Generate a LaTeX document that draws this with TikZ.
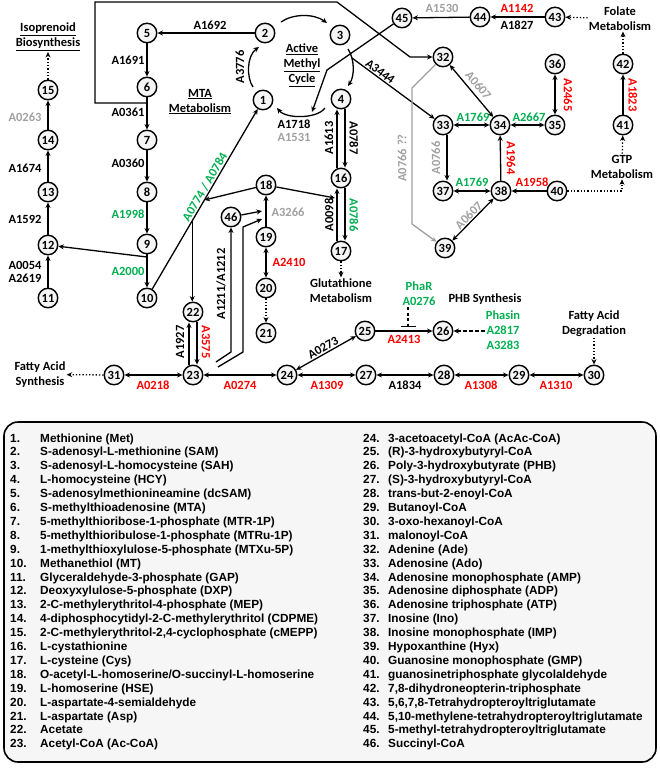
\documentclass[tikz,border=0pt]{standalone}
\usepackage{fontspec}
\setmainfont{Liberation Sans}
\newfontfamily\carl{Carlito}
\usetikzlibrary{arrows.meta,calc}
\definecolor{cred}{RGB}{255,0,0}
\definecolor{cgreen}{RGB}{0,176,80}
\definecolor{cgray}{RGB}{160,160,160}
\newcommand\lf{\carl\bfseries\fontsize{12.5}{15}\selectfont}
\newcommand\legf{\bfseries\fontsize{11.8}{13.9}\selectfont}
\tikzset{
 met/.style={circle,draw,line width=1.4pt,fill=gray!8,minimum size=19.5pt,inner sep=0pt,font=\lf},
 lab/.style={font=\lf,inner sep=1pt},
 txt/.style={font=\lf,inner sep=1pt,align=center},
 arr/.style={-{Stealth[length=5.5pt,width=5pt]},line width=1.3pt},
 darr/.style={{Stealth[length=5.5pt,width=5pt]}-{Stealth[length=5.5pt,width=5pt]},line width=1.3pt},
 dotarr/.style={arr,dotted},
 dasharr/.style={arr,dash pattern=on 3.5pt off 2.5pt},
 leg/.style={font=\legf,anchor=base west,inner sep=0pt},
}
\begin{document}
\begin{tikzpicture}[x=1pt,y=-1pt]
\useasboundingbox (0,0) rectangle (660,774);
% ---------- metabolites ----------
\node[met] (n1) at (263,100) {1};
\node[met] (n2) at (265,33) {2};
\node[met] (n3) at (340,35) {3};
\node[met] (n4) at (341,99) {4};
\node[met] (n5) at (147,33) {5};
\node[met] (n6) at (147,87) {6};
\node[met] (n7) at (147,140) {7};
\node[met] (n8) at (147,192) {8};
\node[met] (n9) at (147,244) {9};
\node[met] (n10) at (147,298) {10};
\node[met] (n11) at (48,298) {11};
\node[met] (n12) at (48,245) {12};
\node[met] (n13) at (48,192) {13};
\node[met] (n14) at (48,140) {14};
\node[met] (n15) at (48,90) {15};
\node[met] (n16) at (341,178) {16};
\node[met] (n17) at (341,251) {17};
\node[met] (n18) at (266,185) {18};
\node[met] (n19) at (266,237) {19};
\node[met] (n20) at (266,288) {20};
\node[met] (n21) at (266,333) {21};
\node[met] (n22) at (193,312) {22};
\node[met] (n23) at (193,375) {23};
\node[met] (n24) at (287,375) {24};
\node[met] (n25) at (365,331) {25};
\node[met] (n26) at (443,331) {26};
\node[met] (n27) at (366,375) {27};
\node[met] (n28) at (444,375) {28};
\node[met] (n29) at (519,375) {29};
\node[met] (n30) at (594,375) {30};
\node[met] (n31) at (114,375) {31};
\node[met] (n32) at (443,57) {32};
\node[met] (n33) at (443,125) {33};
\node[met] (n34) at (500,125) {34};
\node[met] (n35) at (555,125) {35};
\node[met] (n36) at (555,64) {36};
\node[met] (n37) at (443,191) {37};
\node[met] (n38) at (501,191) {38};
\node[met] (n39) at (445,248) {39};
\node[met] (n40) at (557,191) {40};
\node[met] (n41) at (623,125) {41};
\node[met] (n42) at (623,64) {42};
\node[met] (n43) at (555,17) {43};
\node[met] (n44) at (480,17) {44};
\node[met] (n45) at (402,18) {45};
\node[met] (n46) at (231,217) {46};
% ---------- titles ----------
\node[txt] (isop) at (48,37) {\underline{Isoprenoid}\\\underline{Biosynthesis}};
\node[txt] (mta) at (200,101.5) {\underline{MTA}\\\underline{Metabolism}};
\node[txt] (amc) at (302,65) {\underline{Active}\\\underline{Methyl}\\\underline{Cycle}};
\node[txt] (glut) at (341,290.5) {Glutathione\\Metabolism};
\node[txt] (fas) at (40,374.5) {Fatty Acid\\Synthesis};
\node[txt] (fad) at (594,323.5) {Fatty Acid\\Degradation};
\node[txt] (phb) at (485,299) {PHB Synthesis};
\node[txt,text=cgreen] (phar) at (419,293.5) {PhaR\\A0276};
\node[txt,text=cgreen] (phasin) at (503,330) {Phasin\\A2817\\A3283};
\node[txt] (folate) at (620,18.5) {Folate\\Metabolism};
\node[txt] (gtp) at (622,166.5) {GTP\\Metabolism};
% ---------- left column ----------
\draw[arr] (n11) -- (n12);
\node[lab] (a0054) at (25,265) {A0054};
\node[lab] (a2619) at (25,278) {A2619};
\draw[arr] (n12) -- (n13);
\node[lab] (a1592) at (25,219) {A1592};
\draw[arr] (n13) -- (n14);
\node[lab] (a1674) at (25,168) {A1674};
\draw[arr] (n14) -- (n15);
\node[lab,text=cgray] (a0263) at (25,117) {A0263};
\draw[dotarr] (n15) -- (isop);
% ---------- MTA column ----------
\draw[arr] (n2) -- (n5);
\node[lab] (a1692) at (210,25) {A1692};
\draw[arr] (n5) -- (n6);
\node[lab] (a1691) at (128,60) {A1691};
\draw[arr] (n6) -- (n7);
\node[lab] (a0361) at (128,112) {A0361};
\draw[arr] (n7) -- (n8);
\node[lab] (a0360) at (128,163) {A0360};
\draw[arr] (n8) -- (n9);
\node[lab,text=cgreen] (a1998) at (128,214) {A1998};
\draw[arr] (n9) -- (n10);
\node[lab,text=cgreen] (a2000) at (128,271) {A2000};
\coordinate (j9) at (147,257);
\draw[arr] (j9) -- (n12);
\coordinate (j6) at (147,103);
\draw[arr] (j6) -- (95,103) -- (95,2) -- (337,2) -- (410,57) -- (n32);
% ---------- 10 -> 1 ----------
\draw[arr] (n10) -- node[lab,sloped,above,pos=0.55,text=cgreen] (a0774) {A0774 / A0784} (n1);
\coordinate (jd) at ($(n10)!0.39!(n1)$);
\coordinate (je) at ($(n10)!0.495!(n1)$);
\draw[arr] (jd) -- (jd |- n22.north);
\draw[arr] (n18) -- (je);
% ---------- active methyl cycle ----------
\draw[arr] (281,22) .. controls (293,13.5) and (314,13.5) .. (327,23);
\draw[arr] (348,49) .. controls (354.7,59) and (354.7,76) .. (348,86);
\draw[arr] (325,108) .. controls (317,119) and (286,119) .. (277,108);
\draw[arr] (253,87) .. controls (246.5,78) and (246.5,56) .. (259,47);
\node[lab,rotate=90] (a3776) at (240,67) {A3776};
\node[lab] (a1718) at (294,124) {A1718};
\node[lab,text=cgray] (a1531) at (294,137) {A1531};
\draw[arr] (n45) -- (327,70) -- (312,112);
\coordinate (j3) at (352,58);
\draw[arr] (j3) -- node[lab,sloped,above,pos=0.3] (a3444) {A3444} (n33);
% ---------- 4 / 16 / 17 ----------
\draw[arr] ([xshift=-4pt]n16.north) -- ([xshift=-4pt]n4.south);
\draw[arr] ([xshift=4pt]n4.south) -- ([xshift=4pt]n16.north);
\node[lab,rotate=90] (a1613) at (329,138) {A1613};
\node[lab,rotate=-90] (a0787) at (354,138) {A0787};
\draw[arr] ([xshift=-4pt]n17.north) -- ([xshift=-4pt]n16.south);
\draw[arr] ([xshift=4pt]n16.south) -- ([xshift=4pt]n17.north);
\node[lab,rotate=90] (a0098) at (329,215) {A0098};
\node[lab,rotate=-90,text=cgreen] (a0786) at (354,215) {A0786};
\draw[dotarr] (n17) -- (glut);
\draw[arr] (n18) -- (335,198);
% ---------- 18 / 19 / 20 / 46 ----------
\draw[arr] (n19) -- (n18);
\node[lab,text=cgray] (a3266) at (288,212) {A3266};
\draw[arr] (n46) -- (262,211);
\draw[darr] (n19) -- (n20);
\node[lab,text=cred] (a2410) at (289,262) {A2410};
\draw[dotarr] (n20) -- (n21);
\draw[arr] (216,362) -- (231,352) -- (n46);
\draw[arr] (218,367) -- (243,352) -- (243,227) -- (262,219);
\node[lab,rotate=90] (a1211) at (221,284) {A1211/A1212};
% ---------- 22 / 23 ----------
\draw[arr] ([xshift=-4pt]n23.north) -- ([xshift=-4pt]n22.south);
\draw[arr] ([xshift=4pt]n22.south) -- ([xshift=4pt]n23.north);
\node[lab,rotate=90] (a1927) at (180,342) {A1927};
\node[lab,rotate=-90,text=cred] (a3575) at (206,342) {A3575};
% ---------- bottom row ----------
\draw[darr] (n31) -- (n23);
\node[lab,text=cred] (a0218) at (153,385) {A0218};
\draw[dotarr] (n31) -- (fas);
\draw[darr] (n23) -- (n24);
\node[lab,text=cred] (a0274) at (240,385) {A0274};
\draw[darr] (n24) -- node[lab,sloped,above] (a0273) {A0273} (n25);
\draw[darr] (n24) -- (n27);
\node[lab,text=cred] (a1309) at (327,385) {A1309};
\draw[arr] (n25) -- (n26);
\node[lab,text=cred] (a2413) at (404,339) {A2413};
\draw[line width=1.3pt,dash pattern=on 3pt off 2.5pt,-{Bar[width=15pt,line width=1.3pt]}] (408,307) -- (408,327);
\draw[dasharr] (phasin.west |- n26) -- (n26);
\draw[darr] (n27) -- (n28);
\node[lab] (a1834) at (405,385) {A1834};
\draw[darr] (n28) -- (n29);
\node[lab,text=cred] (a1308) at (481,385) {A1308};
\draw[darr] (n29) -- (n30);
\node[lab,text=cred] (a1310) at (556,385) {A1310};
\draw[dotarr] (fad) -- (n30);
% ---------- folate / purine ----------
\draw[arr] (n44) -- (n45);
\node[lab,text=cgray] (a1530) at (442,8) {A1530};
\draw[arr] (n43) -- (n44);
\node[lab,text=cred] (a1142) at (517,8) {A1142};
\node[lab] (a1827) at (517,25) {A1827};
\draw[dotarr] (folate) -- (n43);
\draw[dotarr] (n42) -- (n42 |- folate.south);
\draw[arr] (n41) -- (n42);
\node[lab,rotate=-90,text=cred] (a1823) at (633,95) {A1823};
\draw[dotarr] (gtp) -- (n41);
\draw[dotarr] (n40) -- (622,191) -- (gtp.south);
\draw[arr] (n40) -- (n38);
\node[lab,text=cred] (a1958) at (532,182) {A1958};
\draw[arr] (n38) -- (n34);
\node[lab,rotate=-90,text=cred] (a1964) at (511,158) {A1964};
\draw[darr] (n33) -- (n34);
\node[lab,text=cgreen] (a1769a) at (473,117) {A1769};
\draw[darr] (n34) -- (n35);
\node[lab,text=cgreen] (a2667) at (529,117) {A2667};
\draw[darr] (n35) -- (n36);
\node[lab,rotate=-90,text=cred] (a2465) at (568,95) {A2465};
\draw[darr] (n37) -- (n38);
\node[lab,text=cgreen] (a1769b) at (472,182) {A1769};
\draw[arr] ([xshift=4pt]n33.south) -- ([xshift=4pt]n37.north);
\node[lab,rotate=90,text=cgray] (a0766) at (436,158) {A0766};
\draw[darr] (n32) -- node[lab,sloped,above=3pt,text=cgray] (a0607a) {A0607} (n34);
\draw[darr] (n39) -- node[lab,sloped,above,text=cgray] (a0607b) {A0607} (n38);
\draw[arr,draw=cgray] (n32) -- (412,88) -- (412,224) -- (n39);
\node[lab,rotate=90,text=cgray] (a0766q) at (402,158) {A0766 ??};
% ---------- legend ----------
\draw[line width=1.6pt,fill=gray!7,rounded corners=14pt] (4,422) rectangle (656,762);
\foreach \n/\t [count=\k from 0] in {1/{Methionine (Met)},2/{S-adenosyl-L-methionine (SAM)},3/{S-adenosyl-L-homocysteine (SAH)},4/{L-homocysteine (HCY)},5/{S-adenosylmethionineamine (dcSAM)},6/{S-methylthioadenosine (MTA)},7/{5-methylthioribose-1-phosphate (MTR-1P)},8/{5-methylthioribulose-1-phosphate (MTRu-1P)},9/{1-methylthioxylulose-5-phosphate (MTXu-5P)},10/{Methanethiol (MT)},11/{Glyceraldehyde-3-phosphate (GAP)},12/{Deoxyxylulose-5-phosphate (DXP)},13/{2-C-methylerythritol-4-phosphate (MEP)},14/{4-diphosphocytidyl-2-C-methylerythritol (CDPME)},15/{2-C-methylerythritol-2,4-cyclophosphate (cMEPP)},16/{L-cystathionine},17/{L-cysteine (Cys)},18/{O-acetyl-L-homoserine/O-succinyl-L-homoserine},19/{L-homoserine (HSE)},20/{L-aspartate-4-semialdehyde},21/{L-aspartate (Asp)},22/{Acetate},23/{Acetyl-CoA (Ac-CoA)}}{
  \node[leg] (ln\n) at (10,{442+\k*13.9}) {\n.};
  \node[leg] (lt\n) at (40,{442+\k*13.9}) {\t};
}
\foreach \n/\t [count=\k from 0] in {24/{3-acetoacetyl-CoA (AcAc-CoA)},25/{(R)-3-hydroxybutyryl-CoA},26/{Poly-3-hydroxybutyrate (PHB)},27/{(S)-3-hydroxybutyryl-CoA},28/{trans-but-2-enoyl-CoA},29/{Butanoyl-CoA},30/{3-oxo-hexanoyl-CoA},31/{malonoyl-CoA},32/{Adenine (Ade)},33/{Adenosine (Ado)},34/{Adenosine monophosphate (AMP)},35/{Adenosine diphosphate (ADP)},36/{Adenosine triphosphate (ATP)},37/{Inosine (Ino)},38/{Inosine monophosphate (IMP)},39/{Hypoxanthine (Hyx)},40/{Guanosine monophosphate (GMP)},41/{guanosinetriphosphate glycolaldehyde},42/{7,8-dihydroneopterin-triphosphate},43/{5,6,7,8-Tetrahydropteroyltriglutamate},44/{5,10-methylene-tetrahydropteroyltriglutamate},45/{5-methyl-tetrahydropteroyltriglutamate},46/{Succinyl-CoA}}{
  \node[leg] (ln\n) at (363,{442+\k*13.9}) {\n.};
  \node[leg] (lt\n) at (388,{442+\k*13.9}) {\t};
}
\end{tikzpicture}
\end{document}
